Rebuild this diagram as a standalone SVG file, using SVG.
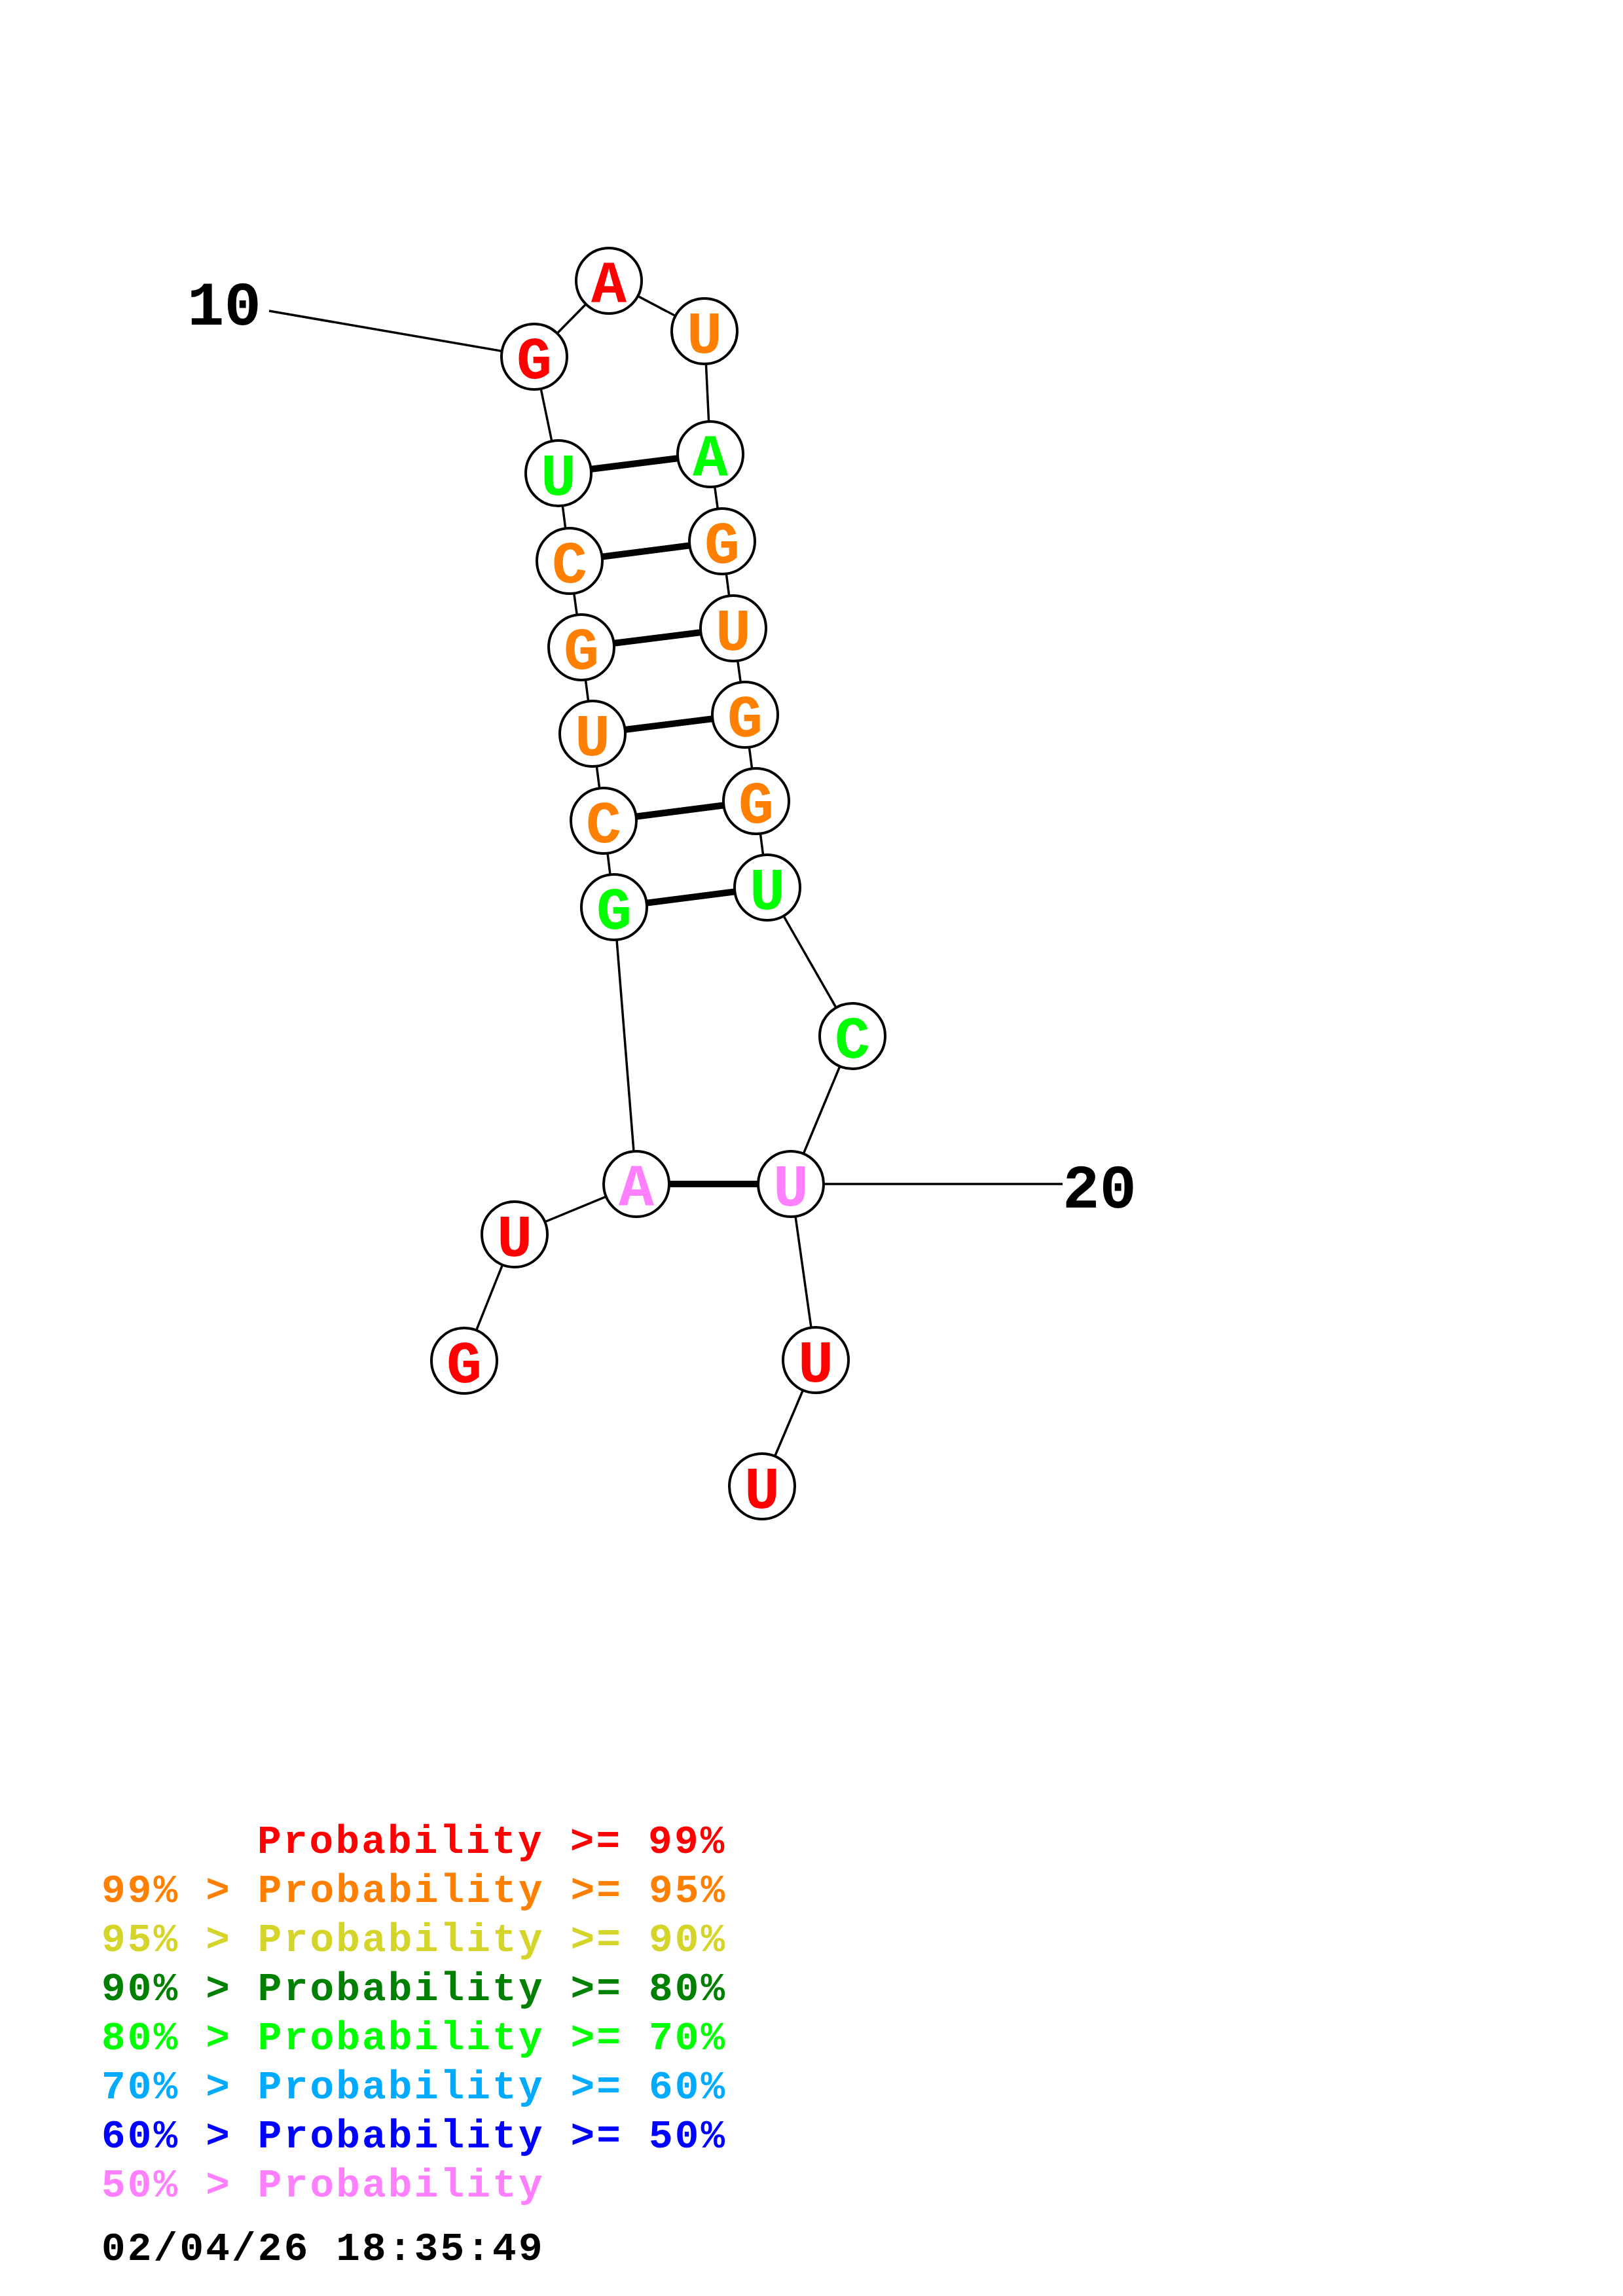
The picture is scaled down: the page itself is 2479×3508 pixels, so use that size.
<svg xmlns="http://www.w3.org/2000/svg" width="2479" height="3508" viewBox="0 0 2479 3508">
<style>
.bb{stroke:#000;stroke-width:3.5;fill:none}
.bp{stroke:#000;stroke-width:10;fill:none}
circle{fill:#fff;stroke:#000;stroke-width:4}
.n text{font-family:"Liberation Mono","Courier New",monospace;font-weight:bold;font-size:90px;text-anchor:middle}
.lbl{font-family:"Liberation Mono","Courier New",monospace;font-weight:bold;font-size:94px;fill:#000}
.leg{font-family:"Liberation Mono","Courier New",monospace;font-weight:bold;font-size:61px;letter-spacing:3.2px}
.r{fill:#FF0000}.o{fill:#FF8000}.y{fill:#D4D42A}.dg{fill:#008000}.g{fill:#00FF00}.lb{fill:#00AAFF}.b{fill:#0000FF}.p{fill:#FF80FF}
</style>
<rect width="2479" height="3508" fill="#fff"/>
<g id="connectors">
<polyline class="bb" points="709,2079 786,1886 972,1809 938,1386 922,1254 905,1121 888,989 870,857 853,723 816,545 930,429 1076,506 1085,694 1103,827 1120,960 1138,1092 1155,1224 1172,1356 1302,1583 1208,1809 1246,2078 1164,2271"/>
<line class="bb" x1="411" y1="475" x2="816" y2="545"/>
<line class="bb" x1="1208" y1="1809" x2="1623" y2="1809"/>
<line class="bp" x1="972" y1="1809" x2="1208" y2="1809"/>
<line class="bp" x1="938" y1="1386" x2="1172" y2="1356"/>
<line class="bp" x1="922" y1="1254" x2="1155" y2="1224"/>
<line class="bp" x1="905" y1="1121" x2="1138" y2="1092"/>
<line class="bp" x1="888" y1="989" x2="1120" y2="960"/>
<line class="bp" x1="870" y1="857" x2="1103" y2="827"/>
<line class="bp" x1="853" y1="723" x2="1085" y2="694"/>
</g>
<g class="n">
<g id="n1"><circle cx="709" cy="2079" r="50"/><text x="709" y="2112" class="r">G</text></g>
<g id="n2"><circle cx="786" cy="1886" r="50"/><text x="786" y="1919" class="r">U</text></g>
<g id="n3"><circle cx="972" cy="1809" r="50"/><text x="972" y="1842" class="p">A</text></g>
<g id="n4"><circle cx="938" cy="1386" r="50"/><text x="938" y="1419" class="g">G</text></g>
<g id="n5"><circle cx="922" cy="1254" r="50"/><text x="922" y="1287" class="o">C</text></g>
<g id="n6"><circle cx="905" cy="1121" r="50"/><text x="905" y="1154" class="o">U</text></g>
<g id="n7"><circle cx="888" cy="989" r="50"/><text x="888" y="1022" class="o">G</text></g>
<g id="n8"><circle cx="870" cy="857" r="50"/><text x="870" y="890" class="o">C</text></g>
<g id="n9"><circle cx="853" cy="723" r="50"/><text x="853" y="756" class="g">U</text></g>
<g id="n10"><circle cx="816" cy="545" r="50"/><text x="816" y="578" class="r">G</text></g>
<g id="n11"><circle cx="930" cy="429" r="50"/><text x="930" y="462" class="r">A</text></g>
<g id="n12"><circle cx="1076" cy="506" r="50"/><text x="1076" y="539" class="o">U</text></g>
<g id="n13"><circle cx="1085" cy="694" r="50"/><text x="1085" y="727" class="g">A</text></g>
<g id="n14"><circle cx="1103" cy="827" r="50"/><text x="1103" y="860" class="o">G</text></g>
<g id="n15"><circle cx="1120" cy="960" r="50"/><text x="1120" y="993" class="o">U</text></g>
<g id="n16"><circle cx="1138" cy="1092" r="50"/><text x="1138" y="1125" class="o">G</text></g>
<g id="n17"><circle cx="1155" cy="1224" r="50"/><text x="1155" y="1257" class="o">G</text></g>
<g id="n18"><circle cx="1172" cy="1356" r="50"/><text x="1172" y="1389" class="g">U</text></g>
<g id="n19"><circle cx="1302" cy="1583" r="50"/><text x="1302" y="1616" class="g">C</text></g>
<g id="n20"><circle cx="1208" cy="1809" r="50"/><text x="1208" y="1842" class="p">U</text></g>
<g id="n21"><circle cx="1246" cy="2078" r="50"/><text x="1246" y="2111" class="r">U</text></g>
<g id="n22"><circle cx="1164" cy="2271" r="50"/><text x="1164" y="2304" class="r">U</text></g>
</g>
<g id="labels">
<text class="lbl" x="286" y="496">10</text>
<text class="lbl" x="1623" y="1845">20</text>
</g>
<g id="legend" class="leg">
<text x="393" y="2831" class="r">Probability &gt;= 99%</text>
<text x="155" y="2906" class="o">99% &gt; Probability &gt;= 95%</text>
<text x="155" y="2981" class="y">95% &gt; Probability &gt;= 90%</text>
<text x="155" y="3056" class="dg">90% &gt; Probability &gt;= 80%</text>
<text x="155" y="3131" class="g">80% &gt; Probability &gt;= 70%</text>
<text x="155" y="3206" class="lb">70% &gt; Probability &gt;= 60%</text>
<text x="155" y="3281" class="b">60% &gt; Probability &gt;= 50%</text>
<text x="155" y="3356" class="p">50% &gt; Probability</text>
<text x="155" y="3453" fill="#000">02/04/26 18:35:49</text>
</g>
</svg>
